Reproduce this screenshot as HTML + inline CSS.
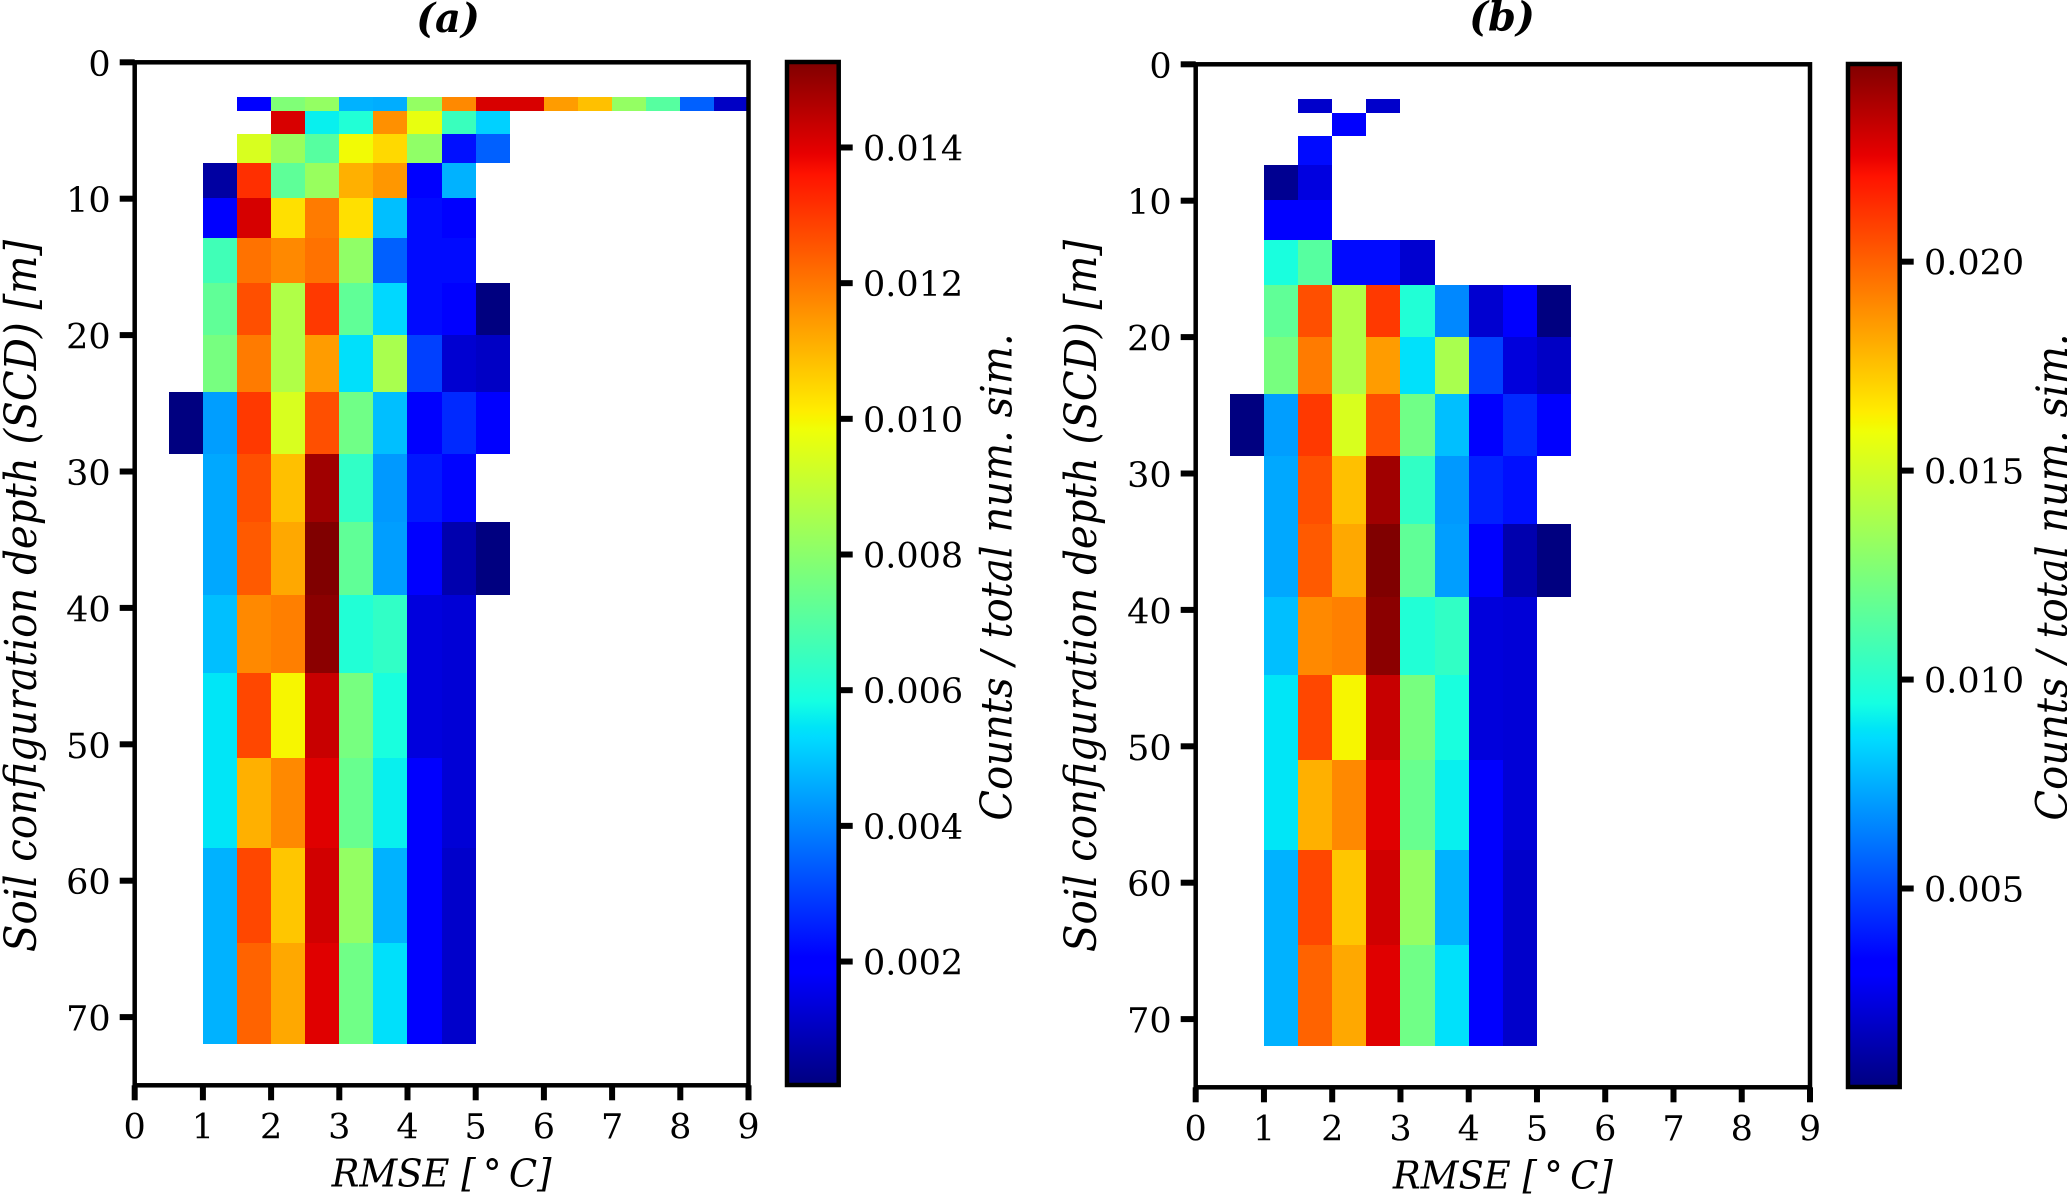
<!DOCTYPE html>
<html lang="en">
<head>
<meta charset="utf-8">
<title>RMSE vs soil configuration depth</title>
<style>
html,body{margin:0;padding:0;background:#fff;}
svg{display:block;}
text{font-family:"DejaVu Serif","Liberation Serif",serif;fill:#000;}
</style>
</head>
<body>
<svg id="figure" xmlns="http://www.w3.org/2000/svg" width="2067" height="1194" viewBox="0 0 2067 1194">
<defs id="defs"></defs>
</svg>
<script>
const xTicks = [0,1,2,3,4,5,6,7,8,9];
const yTicks = [0,10,20,30,40,50,60,70];
const binWidth = 0.5;
const depthEdges = [2.57,3.55,5.28,7.4,9.95,12.88,16.2,20,24.15,28.7,33.7,39.05,44.8,51,57.6,64.6,72];

const startColsA = [3,4,3,2,2,2,2,2,1,2,2,2,2,2,2,2];
const valuesA = [
[0.00199,0.0078,0.00817,0.0047,0.00463,0.00817,0.01172,0.01411,0.01411,0.01141,0.01084,0.00817,0.00704,0.00348,0.00108],
[0.01411,0.00561,0.00606,0.0116,0.00971,0.00651,0.00516],
[0.00942,0.00825,0.00704,0.00989,0.01043,0.0081,0.00229,0.00348],
[0.00063,0.01315,0.00719,0.00825,0.0111,0.01149,0.00206,0.0047],
[0.00199,0.01413,0.01033,0.01194,0.01033,0.00489,0.00222,0.00206],
[0.00663,0.01209,0.01172,0.01209,0.0081,0.00348,0.00222,0.00222],
[0.00722,0.01264,0.00868,0.013,0.00722,0.00526,0.00222,0.00199,0.00018],
[0.00764,0.01194,0.00868,0.01141,0.00538,0.00855,0.00301,0.00124,0.00108],
[0.00018,0.0044,0.013,0.00942,0.01264,0.00751,0.00489,0.00206,0.00267,0.00199],
[0.00455,0.01264,0.01084,0.01484,0.00636,0.00433,0.00241,0.00211],
[0.00455,0.01247,0.01122,0.01526,0.00722,0.0044,0.00199,0.00078,0.00018],
[0.00489,0.01172,0.01187,0.01511,0.00606,0.00636,0.00139,0.00131],
[0.00546,0.01277,0.00998,0.01432,0.00764,0.00591,0.00139,0.00131],
[0.00546,0.0111,0.01172,0.01401,0.00736,0.00561,0.00206,0.00131],
[0.0047,0.01277,0.01074,0.0142,0.00817,0.0047,0.00206,0.00116],
[0.0047,0.01232,0.01122,0.01401,0.00751,0.00538,0.00206,0.00116]
];
const colorRangeA = [0.00018,0.01526];
const colorTicksA = [0.002,0.004,0.006,0.008,0.010,0.012,0.014];
const colorTickLabelsA = ["0.002","0.004","0.006","0.008","0.010","0.012","0.014"];

const startColsB = [3,4,3,2,2,2,2,2,1,2,2,2,2,2,2,2];
const valuesB = [
[0.00184,null,0.00184],
[0.00331],
[0.00355],
[0.00062,0.00228],
[0.00331,0.00331],
[0.00955,0.01139,0.00355,0.00355,0.00196],
[0.01168,0.02047,0.01406,0.02106,0.0098,0.00657,0.00196,0.00319,0.00025],
[0.01237,0.01934,0.01406,0.01849,0.0087,0.01384,0.00484,0.00221,0.00172],
[0.00025,0.0071,0.02106,0.01526,0.02047,0.01215,0.0079,0.00331,0.00429,0.00319],
[0.00735,0.02047,0.01756,0.02404,0.01029,0.00698,0.00407,0.00368],
[0.00735,0.0202,0.01817,0.02473,0.01168,0.0071,0.00319,0.00123,0.00025],
[0.0079,0.01898,0.01922,0.02449,0.0098,0.01029,0.00221,0.00209],
[0.00882,0.02069,0.01616,0.02321,0.01237,0.00955,0.00221,0.00209],
[0.00882,0.01797,0.01898,0.0227,0.0119,0.00906,0.00331,0.00209],
[0.00759,0.02069,0.01739,0.02302,0.01322,0.00759,0.00331,0.00184],
[0.00759,0.01996,0.01817,0.0227,0.01215,0.0087,0.00331,0.00184]
];
const colorRangeB = [0.00025,0.02473];
const colorTicksB = [0.005,0.010,0.015,0.020];
const colorTickLabelsB = ["0.005","0.010","0.015","0.020"];

const xDomain = [0,9];
const yDomain = [0,75];

function interp(points, t){
  for(let i=1;i<points.length;i++){
    if(t<=points[i][0]){
      const a=points[i-1], b=points[i];
      return a[1]+(b[1]-a[1])*(t-a[0])/(b[0]-a[0]);
    }
  }
  return points[points.length-1][1];
}
const jetR=[[0,0],[0.35,0],[0.66,1],[0.89,1],[1,0.5]];
const jetG=[[0,0],[0.125,0],[0.375,1],[0.64,1],[0.91,0],[1,0]];
const jetB=[[0,0.5],[0.11,1],[0.34,1],[0.65,0],[1,0]];
function jet(t){
  t=Math.max(0,Math.min(1,t));
  return 'rgb('+Math.round(interp(jetR,t)*255)+','+Math.round(interp(jetG,t)*255)+','+Math.round(interp(jetB,t)*255)+')';
}

const NS='http://www.w3.org/2000/svg';
const root=document.getElementById('figure');
const defs=document.getElementById('defs');
function mk(tag,attrs,parent,content){
  const el=document.createElementNS(NS,tag);
  for(const k in attrs){el.setAttribute(k,attrs[k]);}
  if(content!==undefined){el.textContent=content;}
  (parent||root).appendChild(el);
  return el;
}

const grad=mk('linearGradient',{id:'jet-gradient',x1:0,y1:1,x2:0,y2:0},defs);
[0,0.11,0.125,0.2,0.25,0.34,0.35,0.375,0.45,0.5,0.55,0.64,0.65,0.66,0.75,0.85,0.89,0.91,1].forEach(function(t){
  mk('stop',{offset:t,'stop-color':jet(t)},grad);
});

function drawPanel(p){
  const g=mk('g',{});
  
  
  const sx=function(v){return p.left+(v-xDomain[0])/(xDomain[1]-xDomain[0])*(p.right-p.left);};
  const sy=function(v){return p.top+(v-yDomain[0])/(yDomain[1]-yDomain[0])*(p.bottom-p.top);};
  const cn=function(v){return (v-p.range[0])/(p.range[1]-p.range[0]);};
  const cy=function(v){return p.cbBottom-cn(v)*(p.cbBottom-p.cbTop);};

  p.values.forEach(function(row,r){
    row.forEach(function(val,i){
      if(val===null){return;}
      const col=p.starts[r]+i;
      const x0=Math.round(sx(col*binWidth)), x1=Math.round(sx((col+1)*binWidth));
      const y0=Math.round(sy(depthEdges[r])), y1=Math.round(sy(depthEdges[r+1]));
      const cell=mk('rect',{x:x0,y:y0,width:x1-x0,height:y1-y0,fill:jet(cn(val)),'shape-rendering':'crispEdges'},g);
      
      
    });
  });

  const frame=mk('rect',{x:p.left,y:p.top,width:p.right-p.left,height:p.bottom-p.top,fill:'none',stroke:'#000','stroke-width':4.5},g);
  
  

  xTicks.forEach(function(t){
    const x=sx(t);
    const tick=mk('line',{x1:x,x2:x,y1:p.bottom,y2:p.bottom+15,stroke:'#000','stroke-width':6},g);
    
    
    const lab=mk('text',{x:x,y:p.bottom+53,'text-anchor':'middle','font-size':p.tickFont},g,String(t));
    
    
  });
  yTicks.forEach(function(t){
    const y=sy(t);
    const tick=mk('line',{x1:p.left-15,x2:p.left,y1:y,y2:y,stroke:'#000','stroke-width':6},g);
    
    
    const lab=mk('text',{x:p.left-24,y:y+13.5,'text-anchor':'end','font-size':p.tickFont},g,String(t));
    
    
  });

  const title=mk('text',{x:p.titleX,y:p.titleY,'text-anchor':'middle','font-size':40,'font-weight':'bold','font-style':'italic'},g,p.title);
  
  

  const xlab=mk('text',{x:(p.left+p.right)/2,y:p.bottom+101,'text-anchor':'middle','font-size':38,'font-style':'italic',textLength:220,lengthAdjust:'spacingAndGlyphs'},g,'RMSE [\u2009\u00B0\u2009C]');
  
  

  const ylab=mk('text',{transform:'translate('+p.yLabelX+' 596) rotate(-90) scale(1 1.08)','text-anchor':'middle','font-size':40.3,'font-style':'italic'},g,'Soil configuration depth (SCD) [m]');
  
  

  const bar=mk('rect',{x:p.cbLeft,y:p.cbTop,width:p.cbRight-p.cbLeft,height:p.cbBottom-p.cbTop,fill:'url(#jet-gradient)',stroke:'#000','stroke-width':4.5},g);
  
  

  p.cbTicks.forEach(function(t,i){
    const y=cy(t);
    const tick=mk('line',{x1:p.cbRight,x2:p.cbRight+14,y1:y,y2:y,stroke:'#000','stroke-width':6},g);
    
    
    const lab=mk('text',{x:p.cbRight+24.3,y:y+13,'font-size':p.cbFont},g,p.cbLabels[i]);
    
    
  });

  const cblab=mk('text',{transform:'translate('+p.cbLabelX+' 577) rotate(-90) scale(1 1.08)','text-anchor':'middle','font-size':40.1,'font-style':'italic'},g,'Counts / total num. sim.');
  
  
}

drawPanel({id:'panel-a',title:'(a)',titleX:448,titleY:32,left:134.7,right:748.5,top:62.3,bottom:1085.3,
  values:valuesA,starts:startColsA,range:colorRangeA,cbTicks:colorTicksA,cbLabels:colorTickLabelsA,
  cbLeft:787,cbRight:838.7,cbTop:62,cbBottom:1085,yLabelX:36,cbLabelX:1011.5,tickFont:35,cbFont:35});
drawPanel({id:'panel-b',title:'(b)',titleX:1502,titleY:30.5,left:1195.7,right:1810,top:64.3,bottom:1087.3,
  values:valuesB,starts:startColsB,range:colorRangeB,cbTicks:colorTicksB,cbLabels:colorTickLabelsB,
  cbLeft:1848,cbRight:1899.7,cbTop:64,cbBottom:1087,yLabelX:1096,cbLabelX:2067,tickFont:35,cbFont:35});
</script>
</body>
</html>
